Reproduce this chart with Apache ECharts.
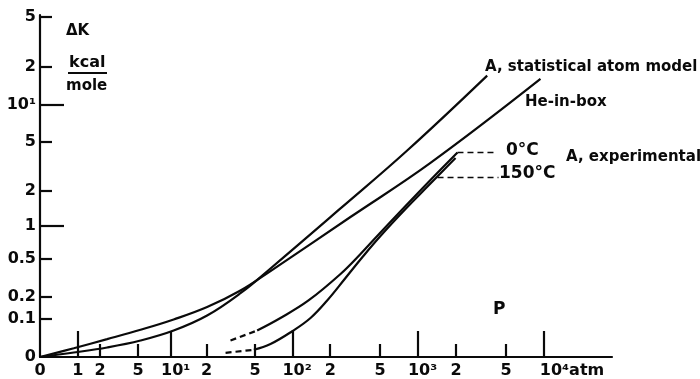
<!DOCTYPE html>
<html><head><meta charset="utf-8">
<script src="https://cdn.jsdelivr.net/npm/echarts@6/dist/echarts.min.js"></script>
<style>html,body{margin:0;padding:0;background:#fff}#c{width:700px;height:379px}</style>
</head><body><div id="c"></div>
<script>
// ---- axis ticks (pressure in atm, ΔK in kcal/mole) ----
const xTickValues = [0, 1, 2, 5, 10, 20, 50, 100, 200, 500, 1000, 2000, 5000, 10000];
const xTickLabels = ['0', '1', '2', '5', '10¹', '2', '5', '10²', '2', '5', '10³', '2', '5', '10⁴atm'];
const xMajorTicks = [1, 10, 100, 1000, 10000];
const xMinorTicks = [2, 5, 20, 50, 200, 500, 2000, 5000];
const yTickValues = [0, 0.1, 0.2, 0.5, 1, 2, 5, 10, 20, 50];
const yTickLabels = ['0', '0.1', '0.2', '0.5', '1', '2', '5', '10¹', '2', '5'];
const yMajorTicks = [1, 10];
const yMinorTicks = [0.1, 0.2, 0.5, 2, 5, 20, 50];

// ---- A, statistical atom model ----
const statP = [0, 0.854, 2.41, 5.28, 10.5, 20.2, 38, 66.5, 241.7, 820, 3540];
const statK = [0, 0.0086, 0.0190, 0.0352, 0.0623, 0.1135, 0.221, 0.404, 1.41, 4.25, 17.0];
// ---- He-in-box ----
const heP = [0, 0.854, 2.41, 5.28, 10.5, 20.2, 38, 66.5, 290, 1255, 9375];
const heK = [0, 0.0174, 0.0385, 0.0644, 0.0985, 0.149, 0.237, 0.381, 1.191, 3.37, 16.0];
// ---- A, experimental 0°C ----
const exp0DashP = [31.5, 51.9];
const exp0DashK = [0.0352, 0.0623];
const exp0P = [51.9, 80.0, 134.2, 241.7, 348.8, 502.7, 794.9, 1255, 2056];
const exp0K = [0.0623, 0.104, 0.181, 0.356, 0.557, 0.873, 1.479, 2.44, 4.10];
// ---- A, experimental 150°C ----
const exp150DashP = [28.7, 48.8];
const exp150DashK = [0.0080, 0.0141];
const exp150P = [48.8, 66.5, 99.4, 139.3, 189.2, 264.9, 361.7, 502.7, 794.9, 1255, 1984];
const exp150K = [0.0141, 0.0268, 0.0602, 0.104, 0.181, 0.324, 0.522, 0.813, 1.395, 2.28, 3.70];
// ---- leader lines to labels ----
const lead0P = [2056, 4121];
const lead0K = [4.10, 4.10];
const lead150P = [1428, 4354];
const lead150K = [2.56, 2.56];

// axis transforms: x = log10(1 + p), y = log10(1 + 10·ΔK)
const fx = p => Math.log10(1 + p);
const fy = k => Math.log10(1 + 10 * k);
const pts = (P, K) => P.map((p, i) => [fx(p), fy(K[i])]);

const FONT = '"DejaVu Sans", sans-serif';
const INK = '#0a0a0a';
const LW = 2.2;
const xT = xTickValues.map(fx), yT = yTickValues.map(fy);
function lookup(T, L, v) {
  let best = 0;
  for (let i = 0; i < T.length; i++) if (Math.abs(T[i] - v) < Math.abs(T[best] - v)) best = i;
  return L[best];
}

const XMAX = 572 / 126, YMAX = 342 / 126;
const baseAxis = { type: 'value', splitLine: { show: false }, axisPointer: { show: false } };
const lineSer = (data, dashed, smooth) => ({
  type: 'line', data, showSymbol: false, symbol: 'none',
  smooth: smooth === undefined ? 0.4 : smooth,
  lineStyle: { color: INK, width: dashed === 'lead' ? 1.6 : LW, type: dashed ? [6, 4] : 'solid' }, silent: true,
  xAxisIndex: 0, yAxisIndex: 0
});
const lab = { color: INK, fontFamily: FONT, fontWeight: 'bold', fontSize: 16 };

const chart = echarts.init(document.getElementById('c'));
chart.setOption({
  animation: false,
  backgroundColor: '#fff',
  grid: { left: 40, right: 88, top: 15, bottom: 22 },
  xAxis: [
    Object.assign({}, baseAxis, {
      min: 0, max: XMAX, position: 'bottom',
      axisLine: { show: true, onZero: false, lineStyle: { color: INK, width: LW } },
      axisTick: { show: true, inside: true, length: 26, customValues: xMajorTicks.map(fx), lineStyle: { color: INK, width: LW } },
      axisLabel: Object.assign({
        show: true, customValues: xT, margin: 6,
        formatter: v => {
          const s = lookup(xT, xTickLabels, v);
          if (s.indexOf('atm') >= 0) return '{w|' + s + '}';
          if (s.indexOf('10') === 0) return '{d|' + s + '}';
          return s;
        },
        rich: {
          w: Object.assign({ padding: [0, 0, 0, 56] }, lab),
          d: Object.assign({ padding: [0, 0, 0, 9] }, lab)
        }
      }, lab)
    }),
    Object.assign({}, baseAxis, {
      min: 0, max: XMAX, position: 'bottom',
      axisLine: { show: false, onZero: false },
      axisTick: { show: true, inside: true, length: 13, customValues: xMinorTicks.map(fx), lineStyle: { color: INK, width: LW } },
      axisLabel: { show: false }
    })
  ],
  yAxis: [
    Object.assign({}, baseAxis, {
      min: 0, max: YMAX, position: 'left',
      axisLine: { show: true, onZero: false, lineStyle: { color: INK, width: LW } },
      axisTick: { show: true, inside: true, length: 24, customValues: yMajorTicks.map(fy), lineStyle: { color: INK, width: LW } },
      axisLabel: Object.assign({
        show: true, customValues: yT, margin: 4,
        formatter: v => lookup(yT, yTickLabels, v)
      }, lab)
    }),
    Object.assign({}, baseAxis, {
      min: 0, max: YMAX, position: 'left',
      axisLine: { show: false, onZero: false },
      axisTick: { show: true, inside: true, length: 12, customValues: yMinorTicks.map(fy), lineStyle: { color: INK, width: LW } },
      axisLabel: { show: false }
    })
  ],
  series: [
    Object.assign(lineSer(pts(statP, statK)), { name: 'A, statistical atom model' }),
    Object.assign(lineSer(pts(heP, heK)), { name: 'He-in-box' }),
    Object.assign(lineSer(pts(exp0DashP, exp0DashK), true, false), { name: 'A, experimental 0°C (extrapolated)' }),
    Object.assign(lineSer(pts(exp0P, exp0K)), { name: 'A, experimental 0°C' }),
    Object.assign(lineSer(pts(exp150DashP, exp150DashK), true, false), { name: 'A, experimental 150°C (extrapolated)' }),
    Object.assign(lineSer(pts(exp150P, exp150K)), { name: 'A, experimental 150°C' }),
    Object.assign(lineSer(pts(lead0P, lead0K), 'lead', false), { name: 'leader 0°C' }),
    Object.assign(lineSer(pts(lead150P, lead150K), 'lead', false), { name: 'leader 150°C' })
  ],
  graphic: [
    { type: 'text', x: 66, y: 31, style: { text: 'ΔK', font: 'bold 15px ' + FONT, fill: INK, verticalAlign: 'middle' } },
    { type: 'text', x: 69, y: 63, style: { text: 'kcal', font: 'bold 16px ' + FONT, fill: INK, verticalAlign: 'middle' } },
    { type: 'line', shape: { x1: 68, y1: 73, x2: 107, y2: 73 }, style: { stroke: INK, lineWidth: 2 } },
    { type: 'text', x: 66, y: 86, style: { text: 'mole', font: 'bold 15px ' + FONT, fill: INK, verticalAlign: 'middle' } },
    { type: 'text', x: 485, y: 67, style: { text: 'A, statistical atom model', font: 'bold 15px ' + FONT, fill: INK, verticalAlign: 'middle' } },
    { type: 'text', x: 525, y: 102, style: { text: 'He-in-box', font: 'bold 15px ' + FONT, fill: INK, verticalAlign: 'middle' } },
    { type: 'text', x: 506, y: 151, style: { text: '0°C', font: 'bold 17px ' + FONT, fill: INK, verticalAlign: 'middle' } },
    { type: 'text', x: 566, y: 157, style: { text: 'A, experimental', font: 'bold 15px ' + FONT, fill: INK, verticalAlign: 'middle' } },
    { type: 'text', x: 499, y: 174, style: { text: '150°C', font: 'bold 17px ' + FONT, fill: INK, verticalAlign: 'middle' } },
    { type: 'text', x: 493, y: 310, style: { text: 'P', font: 'bold 17px ' + FONT, fill: INK, verticalAlign: 'middle' } }
  ]
});
</script></body></html>
